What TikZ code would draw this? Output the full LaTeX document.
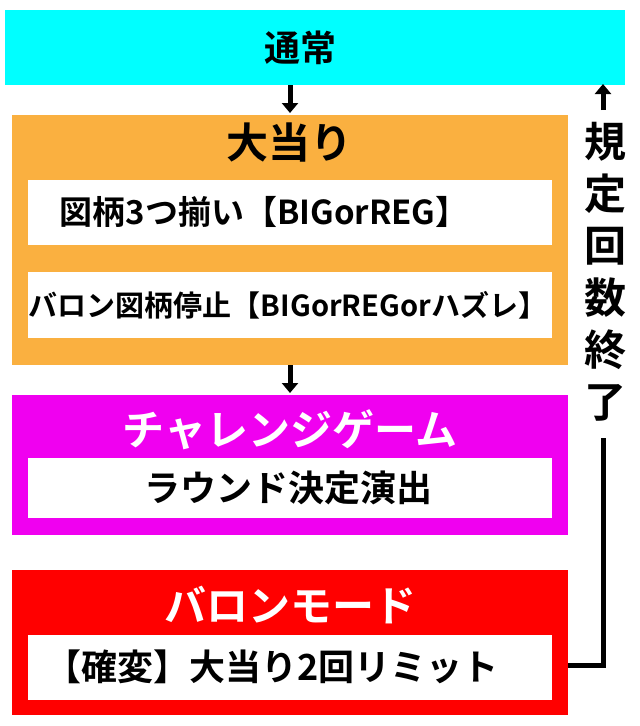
\documentclass[tikz,border=0pt]{standalone}
\usepackage{fontspec}
\setmainfont{Noto Sans CJK JP}[BoldFont={* Bold}]
\usetikzlibrary{arrows.meta}
\begin{document}
\begin{tikzpicture}[x=1pt,y=-1pt,
  box/.style={draw=none,minimum width=#1,anchor=north west,inner sep=0},
  wbox/.style={fill=white,draw=none,anchor=north west,minimum width=524pt,inner sep=0},
  ttl/.style={font=\fontsize{42}{44}\selectfont\bfseries},
  txt/.style={font=\fontsize{36}{38}\selectfont\bfseries},
  arr/.style={line width=5pt,-{Triangle[length=10pt,width=16pt]}}]
\useasboundingbox (0,0) rectangle (640,726);
\fill[white] (0,0) rectangle (640,726);
\node[box=620pt,minimum height=75pt,fill={rgb,255:red,0;green,255;blue,255}] (n1) at (5,10) {};
\node[ttl,font=\fontsize{36}{38}\selectfont\bfseries] at (300,48) {通常};
\node[box=556pt,minimum height=250pt,fill={rgb,255:red,250;green,176;blue,64}] (n2) at (12,115) {};
\node[ttl] at (289,143) {大当り};
\node[wbox,minimum height=65pt] (w1) at (28,180) {};
\node[txt,anchor=west,font=\fontsize{33}{35}\selectfont\bfseries] at (56,212) {図柄3つ揃い【BIGorREG】};
\node[wbox,minimum height=66pt] (w2) at (28,272) {};
\node[txt,font=\fontsize{29}{31}\selectfont\bfseries] at (288,305) {バロン図柄停止【BIGorREGorハズレ】};
\node[box=556pt,minimum height=140pt,fill={rgb,255:red,240;green,0;blue,240}] (n3) at (12,395) {};
\node[ttl,text=white] at (290,430) {チャレンジゲーム};
\node[wbox,minimum height=60pt] (w3) at (28,458) {};
\node[txt] at (288,488) {ラウンド決定演出};
\node[box=556pt,minimum height=145pt,fill={rgb,255:red,255;green,0;blue,0}] (n4) at (12,570) {};
\node[ttl,text=white] at (290,605) {バロンモード};
\node[wbox,minimum height=65pt] (w4) at (28,635) {};
\node[txt] at (272,667) {【確変】大当り2回リミット};
\draw[arr] (290,85) -- (290,113);
\draw[arr] (290,365) -- (290,393);
\coordinate (c1) at (603,665);
\coordinate (c2) at (603,84);
\draw[line width=5pt] (568,665) -- (c1) -- (603,438);
\draw[arr] (603,110) -- (c2);
\node[align=center,inner sep=0,font=\fontsize{42}{52}\selectfont\bfseries] at (605,272) {規\\定\\回\\数\\終\\了};
\end{tikzpicture}
\end{document}
